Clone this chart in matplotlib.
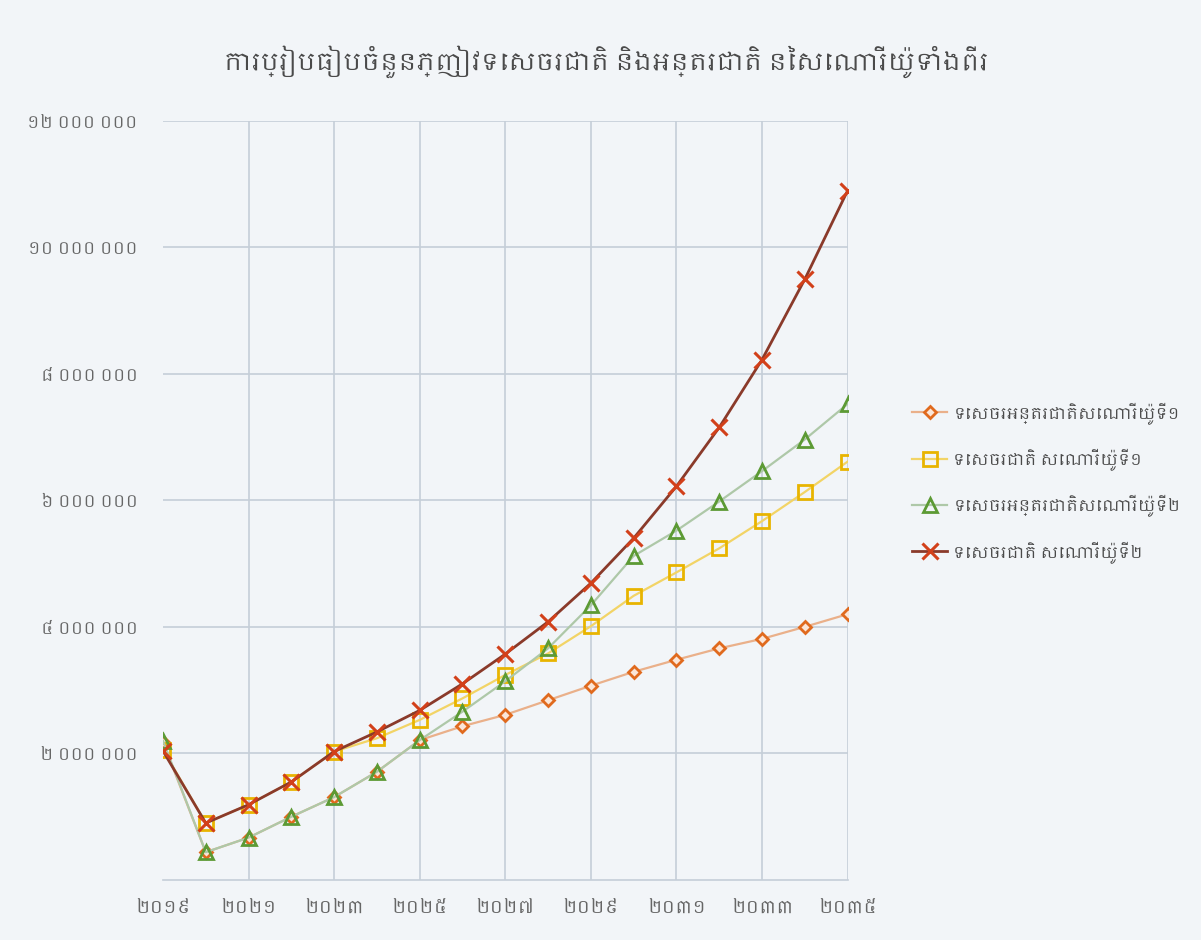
import matplotlib
matplotlib.use("Agg")
import matplotlib.pyplot as plt
from matplotlib import font_manager
from matplotlib.ticker import FixedLocator
import numpy as np

# ពុម្ពអក្សរខ្មែរ បើមាន
khmer_fonts = sorted({f.name for f in font_manager.fontManager.ttflist if "Khmer" in f.name})
plt.rcParams["font.family"] = khmer_fonts[:1] + ["DejaVu Sans"]

years = np.arange(2019, 2036)

# ទេសចរអន្តរជាតិ សេណារីយ៉ូទី១
intl_s1 = [2.18, 0.44, 0.67, 1.00, 1.31, 1.71, 2.21, 2.43, 2.61, 2.84, 3.07,
           3.29, 3.48, 3.66, 3.81, 4.00, 4.20]
# ទេសចរជាតិ សេណារីយ៉ូទី១
nat_s1 = [2.06, 0.90, 1.19, 1.55, 2.03, 2.24, 2.53, 2.87, 3.24, 3.58, 4.01,
          4.49, 4.86, 5.24, 5.67, 6.13, 6.61]
# ទេសចរអន្តរជាតិ សេណារីយ៉ូទី២
intl_s2 = [2.20, 0.44, 0.67, 1.00, 1.31, 1.71, 2.21, 2.66, 3.14, 3.66, 4.34,
           5.12, 5.52, 5.98, 6.46, 6.96, 7.52]
# ទេសចរជាតិ សេណារីយ៉ូទី២
nat_s2 = [2.04, 0.90, 1.19, 1.55, 2.03, 2.34, 2.68, 3.10, 3.57, 4.08, 4.69,
          5.40, 6.22, 7.15, 8.22, 9.49, 10.89]

labels = ["ទេសចរអន្តរជាតិសេណារីយ៉ូទី១", "ទេសចរជាតិ សេណារីយ៉ូទី១",
          "ទេសចរអន្តរជាតិសេណារីយ៉ូទី២", "ទេសចរជាតិ សេណារីយ៉ូទី២"]
title = "ការប្រៀបធៀបចំនួនភ្ញៀវទេសចរជាតិ និងអន្តរជាតិ នៃសេណារីយ៉ូទាំងពីរ"

x_ticks = np.arange(2019, 2036, 2)
y_ticks = [2, 4, 6, 8, 10, 12]
khmer_digits = str.maketrans("0123456789", "០១២៣៤៥៦៧៨៩")
x_labels = [str(y).translate(khmer_digits) for y in x_ticks]
y_labels = [f"{v * 1000000:,}".replace(",", " ").translate(khmer_digits) for v in y_ticks]

bg = "#f2f5f8"
fig = plt.figure(figsize=(12.01, 9.40), dpi=100, facecolor=bg)
ax = fig.add_axes([0.1357, 0.0638, 0.570, 0.808], facecolor=bg)

grid_c = "#c5ced8"
ax.plot(years, np.array(intl_s1) * 1e6, color="#eab08a", lw=1.6,
        marker="D", ms=6.5, mfc="#fbe6d8", mec="#e06a1e", mew=2, label=labels[0], zorder=3)
ax.plot(years, np.array(nat_s1) * 1e6, color="#f2d466", lw=1.6,
        marker="s", ms=10, mfc="none", mec="#e8b400", mew=2, label=labels[1], zorder=4)
ax.plot(years, np.array(intl_s2) * 1e6, color="#aec8a8", lw=1.6,
        marker="^", ms=10, mfc="none", mec="#5c9a34", mew=2, label=labels[2], zorder=5)
ax.plot(years, np.array(nat_s2) * 1e6, color="#8a3a2a", lw=2,
        marker="x", ms=11, mec="#d2401a", mew=2.2, label=labels[3], zorder=6)

ax.set_xlim(2019, 2035)
ax.set_ylim(0, 12e6)
ax.xaxis.set_major_locator(FixedLocator(x_ticks))
ax.set_xticklabels(x_labels)
ax.yaxis.set_major_locator(FixedLocator([v * 1e6 for v in y_ticks]))
ax.set_yticklabels(y_labels)
ax.tick_params(length=0, colors="#666666")
ax.tick_params(axis="x", pad=14, labelsize=13)
ax.tick_params(axis="y", pad=18, labelsize=12)

# horizontal grid, vertical lines only from the second year tick on
ax.grid(True, axis="y", color=grid_c, lw=1.2)
ax.vlines(x_ticks[1:], 0, 12e6, color=grid_c, lw=1.2, zorder=1)
for side in ["left", "top", "right"]:
    ax.spines[side].set_visible(False)
ax.spines["bottom"].set_color(grid_c)
ax.spines["bottom"].set_linewidth(1.2)

fig.text(0.505, 0.934, title, ha="center", va="center", fontsize=17.5, color="#4a4a4a")

fig.legend(loc="center left", bbox_to_anchor=(0.748, 0.487), frameon=False,
           fontsize=11.3, labelspacing=1.55, handlelength=2.2, handletextpad=0.4,
           labelcolor="#4a4a4a")

fig.savefig("out.png", dpi=100, facecolor=bg)
